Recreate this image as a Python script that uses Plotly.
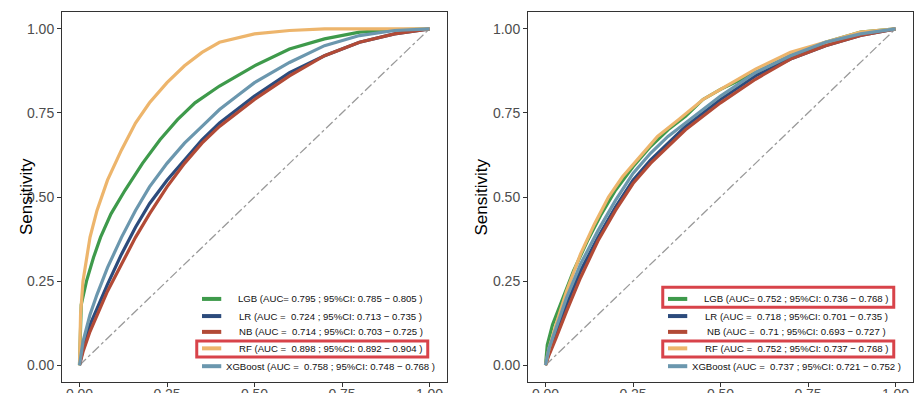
import plotly.graph_objects as go

# ---------------- data ----------------
models = ["LGB", "LR", "NB", "RF", "XGBoost"]
colors = {"LGB": "#3E9A4B", "LR": "#2C4B7C", "NB": "#B24A36", "RF": "#EDB56C", "XGBoost": "#6B97AE"}

# Left panel
L_LGB_fpr = [0, 0.002, 0.005, 0.02, 0.04, 0.06, 0.09, 0.13, 0.18, 0.23, 0.28, 0.33, 0.40, 0.50, 0.60, 0.70, 0.80, 0.90, 1.0]
L_LGB_tpr = [0, 0.12, 0.18, 0.25, 0.32, 0.38, 0.45, 0.52, 0.60, 0.67, 0.73, 0.78, 0.83, 0.89, 0.94, 0.97, 0.99, 0.997, 1.0]
L_LR_fpr = [0, 0.01, 0.03, 0.05, 0.08, 0.12, 0.16, 0.20, 0.25, 0.30, 0.35, 0.40, 0.45, 0.50, 0.60, 0.70, 0.80, 0.90, 1.0]
L_LR_tpr = [0, 0.05, 0.12, 0.17, 0.24, 0.33, 0.41, 0.48, 0.55, 0.61, 0.67, 0.72, 0.76, 0.80, 0.87, 0.92, 0.96, 0.985, 1.0]
L_NB_fpr = [0, 0.01, 0.03, 0.05, 0.08, 0.12, 0.16, 0.20, 0.25, 0.30, 0.35, 0.40, 0.45, 0.50, 0.60, 0.70, 0.80, 0.90, 1.0]
L_NB_tpr = [0, 0.04, 0.10, 0.15, 0.22, 0.30, 0.38, 0.45, 0.53, 0.60, 0.66, 0.71, 0.75, 0.79, 0.86, 0.92, 0.96, 0.985, 1.0]
L_RF_fpr = [0, 0.003, 0.01, 0.03, 0.05, 0.08, 0.12, 0.16, 0.20, 0.25, 0.30, 0.35, 0.40, 0.50, 0.60, 0.70, 1.0]
L_RF_tpr = [0, 0.15, 0.25, 0.38, 0.46, 0.55, 0.64, 0.72, 0.78, 0.84, 0.89, 0.93, 0.96, 0.985, 0.995, 1.0, 1.0]
L_XGB_fpr = [0, 0.01, 0.03, 0.05, 0.08, 0.12, 0.16, 0.20, 0.25, 0.30, 0.35, 0.40, 0.45, 0.50, 0.60, 0.70, 0.80, 0.90, 1.0]
L_XGB_tpr = [0, 0.07, 0.15, 0.21, 0.29, 0.38, 0.46, 0.53, 0.60, 0.66, 0.71, 0.76, 0.80, 0.84, 0.90, 0.95, 0.98, 0.995, 1.0]

# Right panel
R_LGB_fpr = [0, 0.005, 0.02, 0.05, 0.08, 0.12, 0.16, 0.20, 0.25, 0.30, 0.35, 0.40, 0.45, 0.50, 0.60, 0.70, 0.80, 0.90, 1.0]
R_LGB_tpr = [0, 0.06, 0.12, 0.20, 0.28, 0.37, 0.45, 0.52, 0.59, 0.65, 0.70, 0.74, 0.79, 0.82, 0.87, 0.92, 0.96, 0.99, 1.0]
R_LR_fpr = [0, 0.01, 0.03, 0.06, 0.10, 0.15, 0.20, 0.25, 0.30, 0.35, 0.40, 0.45, 0.50, 0.60, 0.70, 0.80, 0.90, 1.0]
R_LR_tpr = [0, 0.04, 0.10, 0.18, 0.28, 0.38, 0.47, 0.55, 0.61, 0.66, 0.71, 0.75, 0.79, 0.86, 0.91, 0.95, 0.98, 1.0]
R_NB_fpr = [0, 0.01, 0.03, 0.06, 0.10, 0.15, 0.20, 0.25, 0.30, 0.35, 0.40, 0.45, 0.50, 0.60, 0.70, 0.80, 0.90, 1.0]
R_NB_tpr = [0, 0.03, 0.08, 0.16, 0.26, 0.37, 0.46, 0.54, 0.60, 0.65, 0.70, 0.74, 0.78, 0.85, 0.91, 0.95, 0.98, 1.0]
R_RF_fpr = [0, 0.01, 0.03, 0.06, 0.10, 0.14, 0.18, 0.22, 0.27, 0.32, 0.38, 0.45, 0.50, 0.60, 0.70, 0.80, 0.90, 1.0]
R_RF_tpr = [0, 0.05, 0.12, 0.22, 0.33, 0.42, 0.50, 0.56, 0.62, 0.68, 0.73, 0.79, 0.82, 0.88, 0.93, 0.96, 0.99, 1.0]
R_XGB_fpr = [0, 0.01, 0.03, 0.06, 0.10, 0.15, 0.20, 0.25, 0.30, 0.35, 0.40, 0.45, 0.50, 0.60, 0.70, 0.80, 0.90, 1.0]
R_XGB_tpr = [0, 0.05, 0.11, 0.20, 0.30, 0.40, 0.49, 0.57, 0.63, 0.68, 0.72, 0.76, 0.80, 0.87, 0.92, 0.96, 0.985, 1.0]

left_labels = [
    "LGB (AUC= 0.795 ; 95%CI: 0.785 − 0.805 )",
    "LR (AUC =  0.724 ; 95%CI: 0.713 − 0.735 )",
    "NB (AUC =  0.714 ; 95%CI: 0.703 − 0.725 )",
    "RF (AUC =  0.898 ; 95%CI: 0.892 − 0.904 )",
    "XGBoost (AUC =  0.758 ; 95%CI: 0.748 − 0.768 )",
]
right_labels = [
    "LGB (AUC= 0.752 ; 95%CI: 0.736 − 0.768 )",
    "LR (AUC =  0.718 ; 95%CI: 0.701 − 0.735 )",
    "NB (AUC =  0.71 ; 95%CI: 0.693 − 0.727 )",
    "RF (AUC =  0.752 ; 95%CI: 0.737 − 0.768 )",
    "XGBoost (AUC =  0.737 ; 95%CI: 0.721 − 0.752 )",
]
left_highlight = ["RF"]
right_highlight = ["LGB", "RF"]

tick_vals = [0, 0.25, 0.5, 0.75, 1.0]
tick_text = ["0.00", "0.25", "0.50", "0.75", "1.00"]

left_curves = {"LGB": (L_LGB_fpr, L_LGB_tpr), "LR": (L_LR_fpr, L_LR_tpr), "NB": (L_NB_fpr, L_NB_tpr),
               "RF": (L_RF_fpr, L_RF_tpr), "XGBoost": (L_XGB_fpr, L_XGB_tpr)}
right_curves = {"LGB": (R_LGB_fpr, R_LGB_tpr), "LR": (R_LR_fpr, R_LR_tpr), "NB": (R_NB_fpr, R_NB_tpr),
                "RF": (R_RF_fpr, R_RF_tpr), "XGBoost": (R_XGB_fpr, R_XGB_tpr)}

# ---------------- figure ----------------
W, H = 922, 393
fig = go.Figure()

panels = [("x", "y", left_curves, left_labels, left_highlight),
          ("x2", "y2", right_curves, right_labels, right_highlight)]

for xa, ya, curves, labels, hl in panels:
    fig.add_trace(go.Scatter(x=[0, 1], y=[0, 1], mode="lines", xaxis=xa, yaxis=ya,
                             line=dict(color="#9a9a9a", width=1.3, dash="dashdot"),
                             showlegend=False, hoverinfo="skip"))
    for m in models:
        fx, ty = curves[m]
        fig.add_trace(go.Scatter(x=fx, y=ty, mode="lines", xaxis=xa, yaxis=ya,
                                 line=dict(color=colors[m], width=3.2), name=m,
                                 showlegend=False))

# legend (drawn inside each panel)
row_y = [0.197, 0.146, 0.099, 0.050, -0.003]
for xa, ya, curves, labels, hl in panels:
    for i, m in enumerate(models):
        fig.add_shape(type="line", xref=xa, yref=ya, x0=0.35, x1=0.405, y0=row_y[i], y1=row_y[i],
                      line=dict(color=colors[m], width=4))
        fig.add_annotation(xref=xa, yref=ya, x=0.718, y=row_y[i], text=labels[i], showarrow=False,
                           xanchor="center", yanchor="middle",
                           font=dict(family="Liberation Sans, Arial", size=9.6, color="#111111"))
        if m in hl:
            if xa == "x2" and m == "LGB":
                y0, y1 = 0.172, 0.232
            else:
                y0, y1 = row_y[i] - 0.026, row_y[i] + 0.022
            fig.add_shape(type="rect", xref=xa, yref=ya, x0=0.335, x1=0.995, y0=y0, y1=y1,
                          line=dict(color="#D8434A", width=3))

axis_common = dict(range=[-0.05, 1.05], tickvals=tick_vals, ticktext=tick_text, showgrid=False,
                   zeroline=False, showline=True, linecolor="#333333", linewidth=1, mirror=True,
                   ticks="outside", ticklen=4, tickcolor="#333333", tickwidth=1, automargin=False,
                   tickfont=dict(family="Liberation Sans, Arial", size=14, color="#4D4D4D"))

ydom = [1 - 382 / H, 1 - 12 / H]
fig.update_layout(
    width=W, height=H, margin=dict(l=0, r=0, t=0, b=0, autoexpand=False),
    plot_bgcolor="white", paper_bgcolor="white", showlegend=False,
    xaxis=dict(domain=[62 / W, 447 / W], anchor="y", ticklabelstandoff=-5, **axis_common),
    yaxis=dict(domain=ydom, anchor="x", **axis_common),
    xaxis2=dict(domain=[528 / W, 913 / W], anchor="y2", ticklabelstandoff=-5, **axis_common),
    yaxis2=dict(domain=ydom, anchor="x2", **axis_common),
)
fig.add_annotation(xref="paper", yref="paper", x=15 / W, y=0.5, text="Sensitivity", textangle=-90,
                   showarrow=False, font=dict(family="Liberation Sans, Arial", size=17, color="#000000"))
fig.add_annotation(xref="paper", yref="paper", x=481 / W, y=0.5, text="Sensitivity", textangle=-90,
                   showarrow=False, font=dict(family="Liberation Sans, Arial", size=17, color="#000000"))

fig.write_html("out.html", config={"displayModeBar": False},
               post_script="document.body.style.margin='0';document.body.style.overflow='hidden';")
